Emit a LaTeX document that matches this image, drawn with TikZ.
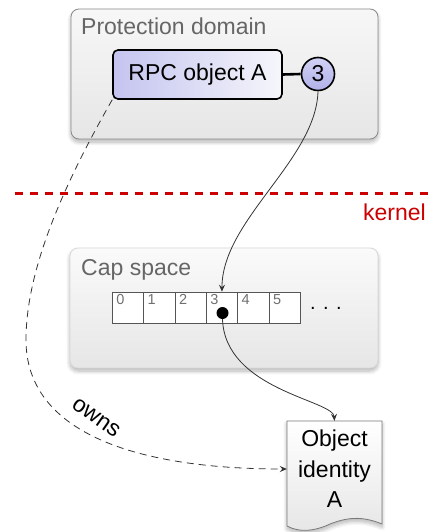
\documentclass[tikz,border=0pt]{standalone}
\usepackage{fontspec}
\setmainfont{Liberation Sans}
\usetikzlibrary{arrows.meta,shadows.blur}
\definecolor{pdedge}{HTML}{8A8A8A}
\definecolor{capedge}{HTML}{D8D8D8}
\definecolor{boxtop}{HTML}{F7F7F7}
\definecolor{boxbot}{HTML}{E6E6E6}
\definecolor{titlegray}{HTML}{666666}
\definecolor{rpcleft}{HTML}{C4C4F0}
\definecolor{rpcright}{HTML}{F6F6FB}
\definecolor{ctop}{HTML}{D2D2F5}
\definecolor{cbot}{HTML}{B0B0E8}
\definecolor{kernelred}{HTML}{CC0000}
\definecolor{cellgray}{HTML}{555555}
\definecolor{numgray}{HTML}{707070}
\definecolor{conngray}{HTML}{333333}
\definecolor{docedge}{HTML}{7A7A7A}
\begin{document}
\begin{tikzpicture}[x=1pt,y=-1pt,
  font=\fontsize{23}{30.5}\selectfont,
  softshadow/.style={blur shadow={shadow blur steps=8, shadow xshift=0pt, shadow yshift=-3pt, shadow blur radius=4pt, shadow opacity=30}},
  domainbox/.style={rectangle, rounded corners=8pt, draw=pdedge, line width=0.8pt, top color=boxtop, bottom color=boxbot, softshadow, inner sep=0},
  capbox/.style={rectangle, rounded corners=8pt, draw=capedge, line width=0.8pt, top color=boxtop!60!white, bottom color=boxbot, softshadow, inner sep=0},
  titletext/.style={anchor=base west, inner sep=0, text=titlegray},
  rpcbox/.style={rectangle, rounded corners=5pt, draw=black, line width=1.6pt, left color=rpcleft, right color=rpcright, minimum width=169pt, minimum height=49pt, inner sep=0},
  capnum/.style={circle, draw=black, line width=1.6pt, top color=ctop, bottom color=cbot, minimum size=33pt, inner sep=0},
  cellbox/.style={rectangle, draw=cellgray, fill=white, line width=0.7pt, minimum width=31.33pt, minimum height=31pt, inner sep=0},
  celllabel/.style={font=\fontsize{14.5}{15}\selectfont, text=numgray, anchor=north west, inner sep=2.2pt, xshift=2pt},
  conn/.style={draw=conngray, line width=0.8pt, -{Stealth[length=7pt,width=6pt,inset=2.5pt]}},
  ownsline/.style={draw=conngray, line width=0.8pt, dash pattern=on 7pt off 5pt, -{Stealth[length=7pt,width=6pt,inset=2.5pt]}},
  kernelline/.style={draw=kernelred, line width=3pt, dash pattern=on 8pt off 7pt},
  docshape/.style={draw=docedge, line width=0.8pt, top color=white, bottom color=boxbot, softshadow}
]
\useasboundingbox (0,0) rectangle (432,532);

% protection domain
\node[domainbox, minimum width=307pt, minimum height=130pt] (pd) at (224.5,74) {};
\node[titletext] (pdtitle) at (81,35) {Protection domain};
\node[rpcbox] (rpc) at (197.5,74.5) {RPC object A};
\node[capnum] (c3) at (318,74) {3};
\draw[line width=2.6pt] (rpc.east) -- (c3.west);

% kernel line
\coordinate (kl) at (15,193);
\coordinate (kr) at (432,193);
\draw[kernelline] (kl) -- (kr);
\node[anchor=base east, inner sep=0, text=kernelred] (kernel) at (426,220) {kernel};

% cap space
\node[capbox, minimum width=308pt, minimum height=120pt] (cs) at (224,308) {};
\node[titletext] (cstitle) at (81,275) {Cap space};
\foreach \i in {0,...,5} {
  \node[cellbox, label={[celllabel]north west:\i}] (cell\i) at ({112.3+31.33*(\i+0.5)},307.5) {};
}
\node[anchor=base west, inner sep=0, font=\fontsize{20}{24}\selectfont] (more) at (310,309.5) {. . .};
\node[circle, fill=black, minimum size=12pt, inner sep=0] (dot) at (222.5,313) {};

% object identity document
\draw[docshape] (287,421) -- (382,421) -- (382,524)
  .. controls (365,517) and (350,516) .. (330,524)
  .. controls (315,531) and (300,533) .. (287,526) -- cycle;
\node[align=center, inner sep=0, minimum width=95pt, minimum height=96pt] (obj) at (334.5,469) {Object\\identity\\A};

% connectors
\draw[conn] (c3.south) .. controls (316,160) and (222,220) .. (cell3.north);
\draw[conn] (dot.south) .. controls (225,390) and (333,400) .. (obj.north);
\coordinate (ownsmid) at (26,340);
\draw[ownsline] (rpc.south west) .. controls (63,186) and (26,270) .. (ownsmid)
  .. controls (26,430) and (130,469) .. (obj.west);
\node[rotate=-35, inner sep=0] (ownslabel) at (96,418) {owns};
\end{tikzpicture}
\end{document}
